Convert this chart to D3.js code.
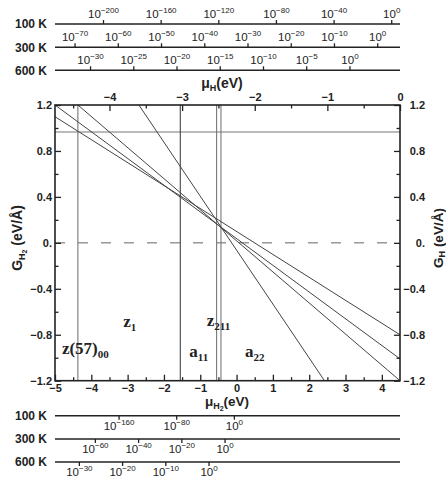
<!DOCTYPE html>
<html>
<head>
<meta charset="utf-8">
<script src="https://cdn.jsdelivr.net/npm/d3@7"></script>
<style>
body { margin: 0; background: #fff; }
svg { display: block; font-family: "Liberation Sans", Arial, sans-serif; }
</style>
</head>
<body>
<svg width="446" height="477"></svg>
<script>
// ---- chart data ----
const xTicks = [-5, -4, -3, -2, -1, 0, 1, 2, 3, 4];
const xMinor = [-4.5, -3.5, -2.5, -1.5, -0.5, 0.5, 1.5, 2.5, 3.5];
const xTopTicks = [-4, -3, -2, -1, 0];
const xTopMinor = [-4.5, -3.5, -2.5, -1.5, -0.5];
const yTicks = [-1.2, -0.8, -0.4, 0, 0.4, 0.8, 1.2];
const yTickLabels = ["\u22121.2", "\u22120.8", "\u22120.4", "0.", "0.4", "0.8", "1.2"];
const yMinor = [-1, -0.6, -0.2, 0.2, 0.6, 1];

const tempLabels = ["100 K", "300 K", "600 K"];
const temps = [100, 300, 600];
// chemical potential where p = 10^0 on each pressure scale
const topZero = [-0.114, -0.307, -0.689];
const topExps = [
    [-200, -160, -120, -80, -40, 0],
    [-70, -60, -50, -40, -30, -20, -10, 0],
    [-30, -25, -20, -15, -10, -5, 0]
];
const bottomZero = [-0.061, -0.317, -0.758];
const bottomExps = [
    [-160, -80, 0],
    [-60, -40, -20, 0],
    [-30, -20, -10, 0]
];

// G lines, [mu_H2, G] end points
const slopedLines = [
    [[-5, 1.2], [4.5, -1.01]],
    [[-5, 1.098], [4.5, -0.80]],
    [[-4.37, 1.2], [4.5, -1.2]],
    [[-2.69, 1.2], [2.42, -1.2]]
];
const verticalLines = [-4.37, -1.55, -0.55, -0.43];
const verticalDark = [false, true, false, false];
const horizontalLine = 0.965;

const regionNames = [["z(57)", "00"], ["z", "1"], ["z", "211"], ["a", "11"], ["a", "22"]];
const regionAnchors = [[-4.81, -0.965], [-3.12, -0.73], [-0.82, -0.728], [-1.30, -0.99], [0.234, -0.99]];

// ---- layout ----
const svg = d3.select("svg");
const L = 55, R = 400, T = 105, B = 380.7;
const kB = 8.617e-5;

const x = d3.scaleLinear().domain([-5, 4.5]).range([L, R]);
const xTop = d3.scaleLinear().domain([-4.75, 0]).range([L, R]);
const y = d3.scaleLinear().domain([-1.2, 1.2]).range([B, T]);

svg.append("rect").attr("width", 446).attr("height", 477).attr("fill", "#fff");

svg.append("clipPath").attr("id", "plot")
    .append("rect").attr("x", L).attr("y", T).attr("width", R - L).attr("height", B - T);

const plot = svg.append("g").attr("clip-path", "url(#plot)");

// zero dashed line
plot.append("line")
    .attr("x1", L).attr("x2", R).attr("y1", y(0)).attr("y2", y(0))
    .attr("stroke", "#666").attr("stroke-width", 1).attr("stroke-dasharray", "10,13");

plot.append("line")
    .attr("x1", L).attr("x2", R).attr("y1", y(horizontalLine)).attr("y2", y(horizontalLine))
    .attr("stroke", "#777").attr("stroke-width", 1.2);

plot.selectAll(".vline").data(verticalLines).join("line")
    .attr("x1", d => x(d)).attr("x2", d => x(d)).attr("y1", T).attr("y2", B)
    .attr("stroke", (d, i) => verticalDark[i] ? "#444" : "#777")
    .attr("stroke-width", 1.1);

const line = d3.line().x(d => x(d[0])).y(d => y(d[1]));
plot.selectAll(".sline").data(slopedLines).join("path")
    .attr("d", line).attr("fill", "none").attr("stroke", "#444").attr("stroke-width", 1);

// ---- axes ----
const numFont = g => g.selectAll("text")
    .attr("font-size", 11).attr("font-weight", "bold").attr("fill", "#222")
    .attr("font-family", "Liberation Sans, Arial, sans-serif");
const clean = g => { g.select(".domain").remove(); g.selectAll("line").attr("stroke", "#222").attr("stroke-width", 1.3); };

svg.append("g").attr("transform", `translate(0,${B})`)
    .call(d3.axisBottom(x).tickValues(xTicks).tickSizeInner(-6).tickSizeOuter(0).tickPadding(4)
        .tickFormat(d => d < 0 ? "\u2212" + Math.abs(d) : d))
    .call(clean).call(numFont);
svg.append("g").attr("transform", `translate(0,${B})`)
    .call(d3.axisBottom(x).tickValues(xMinor).tickSizeInner(-3.5).tickSizeOuter(0).tickFormat(""))
    .call(clean);

svg.append("g").attr("transform", `translate(0,${T})`)
    .call(d3.axisTop(xTop).tickValues(xTopTicks).tickSizeInner(-6).tickSizeOuter(0).tickPadding(4)
        .tickFormat(d => d < 0 ? "\u2212" + Math.abs(d) : d))
    .call(clean).call(numFont);
svg.append("g").attr("transform", `translate(0,${T})`)
    .call(d3.axisTop(xTop).tickValues(xTopMinor).tickSizeInner(-3.5).tickSizeOuter(0).tickFormat(""))
    .call(clean);

svg.append("g").attr("transform", `translate(${L},0)`)
    .call(d3.axisLeft(y).tickValues(yTicks).tickSizeInner(-6).tickSizeOuter(0).tickPadding(3)
        .tickFormat((d, i) => yTickLabels[i]))
    .call(clean).call(numFont);
svg.append("g").attr("transform", `translate(${L},0)`)
    .call(d3.axisLeft(y).tickValues(yMinor).tickSizeInner(-3.5).tickSizeOuter(0).tickFormat(""))
    .call(clean);

const right = svg.append("g").attr("transform", `translate(${R},0)`)
    .call(d3.axisRight(y).tickValues(yTicks).tickSizeInner(-6).tickSizeOuter(0).tickPadding(25)
        .tickFormat((d, i) => yTickLabels[i]))
    .call(clean).call(numFont);
right.selectAll("text").attr("text-anchor", "end");
svg.append("g").attr("transform", `translate(${R},0)`)
    .call(d3.axisRight(y).tickValues(yMinor).tickSizeInner(-3.5).tickSizeOuter(0).tickFormat(""))
    .call(clean);

svg.append("rect").attr("x", L).attr("y", T).attr("width", R - L).attr("height", B - T)
    .attr("fill", "none").attr("stroke", "#222").attr("stroke-width", 1.6);

// ---- axis titles ----
const title = (t, parts) => {
    parts.forEach(p => {
        t.append("tspan").attr("font-size", p[1]).attr("dy", p[2]).text(p[0]);
    });
    return t;
};
title(svg.append("text").attr("x", 222).attr("y", 88).attr("text-anchor", "middle")
    .attr("font-weight", "bold").attr("fill", "#222"),
    [["\u03bc", 14, 0], ["H", 9, 3], ["(eV)", 14, -3]]);
title(svg.append("text").attr("x", 227).attr("y", 406).attr("text-anchor", "middle")
    .attr("font-weight", "bold").attr("fill", "#222"),
    [["\u03bc", 13.5, 0], ["H", 9, 3], ["2", 7, 2], ["(eV)", 13.5, -5]]);
title(svg.append("text").attr("transform", "translate(22,238) rotate(-90)").attr("text-anchor", "middle")
    .attr("font-weight", "bold").attr("fill", "#222"),
    [["G", 14, 0], ["H", 9, 3], ["2", 7, 2], [" (eV/\u00c5)", 14, -5]]);
title(svg.append("text").attr("transform", "translate(442.5,238) rotate(-90)").attr("text-anchor", "middle")
    .attr("font-weight", "bold").attr("fill", "#222"),
    [["G", 13.5, 0], ["H", 9, 2.5], [" (eV/\u00c5)", 13.5, -2.5]]);

// ---- region labels ----
regionNames.forEach((n, i) => {
    const t = svg.append("text")
        .attr("x", x(regionAnchors[i][0])).attr("y", y(regionAnchors[i][1]))
        .attr("font-family", "Liberation Serif, Times New Roman, serif")
        .attr("font-weight", "bold").attr("fill", "#222");
    t.append("tspan").attr("font-size", 17).text(n[0]);
    t.append("tspan").attr("font-size", 11).attr("dy", 4).text(n[1]);
});

// ---- pressure scales ----
function pressureRow(yPos, label, T0, zero, exps, muScale, below) {
    const perDecade = kB * T0 * Math.LN10;
    const p = d3.scaleLinear().domain([0, 1]).range([zero, zero + perDecade]);
    const g = svg.append("g");
    g.append("line").attr("x1", L).attr("x2", R).attr("y1", yPos).attr("y2", yPos)
        .attr("stroke", "#222").attr("stroke-width", 1.6);
    g.append("text").attr("x", 47).attr("y", yPos + 4.3).attr("text-anchor", "end")
        .attr("font-size", 12).attr("font-weight", "bold").attr("fill", "#222").text(label);
    const ticks = g.selectAll(".pt").data(exps).join("g")
        .attr("transform", e => `translate(${muScale(p(e))},${yPos})`);
    ticks.append("line").attr("y1", 0).attr("y2", below ? 4 : -4)
        .attr("stroke", "#222").attr("stroke-width", 1.3);
    const t = ticks.append("text").attr("text-anchor", "middle")
        .attr("y", below ? 14 : -6).attr("fill", "#222");
    t.append("tspan").attr("font-size", 11.5).text("10");
    t.append("tspan").attr("font-size", 8).attr("dy", -5)
        .text(e => e < 0 ? "\u2212" + Math.abs(e) : e);
}

const topRowsY = [24, 47.3, 70.3];
const bottomRowsY = [415.7, 439, 462];
temps.forEach((T0, i) => {
    pressureRow(topRowsY[i], tempLabels[i], T0, topZero[i], topExps[i], xTop, false);
    pressureRow(bottomRowsY[i], tempLabels[i], T0, bottomZero[i], bottomExps[i], x, true);
});
</script>
</body>
</html>
